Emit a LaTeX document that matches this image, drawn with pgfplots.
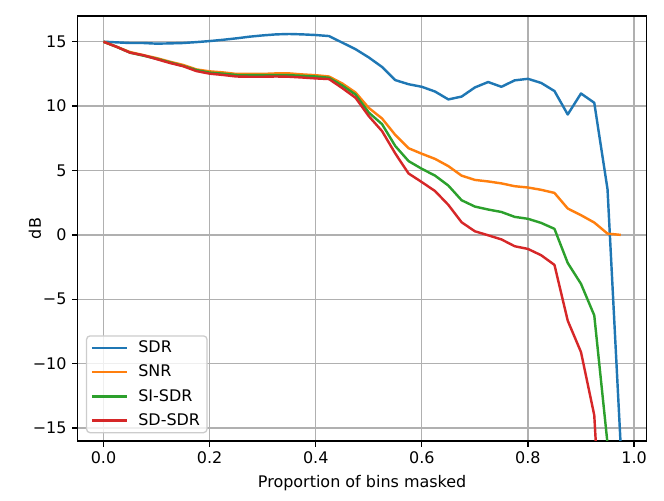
\documentclass[border=0pt]{standalone}
\usepackage{fontspec}
\setmainfont{DejaVu Sans}
\usepackage{pgfplots}
\pgfplotsset{compat=1.18}
\definecolor{tabblue}{HTML}{1F77B4}
\definecolor{taborange}{HTML}{FF7F0E}
\definecolor{tabgreen}{HTML}{2CA02C}
\definecolor{tabred}{HTML}{D62728}
\definecolor{gridgray}{HTML}{B0B0B0}
\definecolor{legedge}{HTML}{CCCCCC}
\begin{document}
\fontsize{11.5}{13.8}\selectfont
\begin{tikzpicture}
\begin{axis}[
  name=ax,
  scale only axis,
  width=409.7pt, height=306pt,
  xmin=-0.04875, xmax=1.02375, ymin=-16, ymax=17,
  xtick={0,0.2,0.4,0.6,0.8,1.0},
  xticklabels={0.0,0.2,0.4,0.6,0.8,1.0},
  ytick={-15,-10,-5,0,5,10,15},
  yticklabels={−15,−10,−5,0,5,10,15},
  tick align=outside, tick pos=left,
  major tick length=4pt,
  every tick/.style={black, line width=0.93pt},
  grid=major,
  grid style={color=gridgray, line width=0.93pt},
  axis line style={black, line width=0.93pt},
  tick label style={font=\fontsize{11.5}{13.8}\selectfont},
  label style={font=\fontsize{11.5}{13.8}\selectfont},
  xlabel={Proportion of bins masked},
  ylabel={dB},
  every axis y label/.style={at={(axis description cs:-0.075,0.5)}, rotate=90, anchor=center},
  legend cell align=left,
  legend style={at={(0.0146,0.018)}, anchor=south west,
    draw=legedge, line width=0.93pt, rounded corners=2.5pt,
    fill=white, fill opacity=0.8, text opacity=1,
    font=\fontsize{11.5}{13.8}\selectfont,
    inner xsep=3pt, inner ysep=1.5pt, row sep=3.2pt},
  legend image code/.code={\draw[line width=1.75pt] (0pt,0pt) -- (25pt,0pt);},
  every axis plot/.append style={line width=1.75pt, line join=round},
]
\addplot[tabblue] coordinates {(0,15.0)(0.025,14.95)(0.05,14.9)(0.075,14.9)(0.1,14.85)(0.125,14.87)(0.15,14.9)(0.175,14.97)(0.2,15.05)(0.225,15.15)(0.25,15.26)(0.275,15.39)(0.3,15.49)(0.325,15.57)(0.35,15.6)(0.375,15.57)(0.4,15.52)(0.425,15.44)(0.45,14.93)(0.475,14.42)(0.5,13.78)(0.525,13.04)(0.55,12.02)(0.575,11.7)(0.6,11.5)(0.625,11.13)(0.65,10.52)(0.675,10.74)(0.7,11.45)(0.725,11.87)(0.75,11.5)(0.775,12.0)(0.8,12.12)(0.825,11.8)(0.85,11.17)(0.875,9.35)(0.9,10.98)(0.925,10.26)(0.95,3.55)(0.975,-16.5)};
\addlegendentry{\hspace*{5.5pt}SDR}
\addplot[taborange] coordinates {(0,15)(0.025,14.6)(0.05,14.2)(0.075,13.96)(0.1,13.73)(0.125,13.45)(0.15,13.2)(0.175,12.85)(0.2,12.7)(0.225,12.62)(0.25,12.5)(0.275,12.5)(0.3,12.5)(0.325,12.54)(0.35,12.54)(0.375,12.46)(0.4,12.4)(0.425,12.3)(0.45,11.76)(0.475,11.06)(0.5,9.86)(0.525,9.04)(0.55,7.76)(0.575,6.73)(0.6,6.3)(0.625,5.9)(0.65,5.34)(0.675,4.6)(0.7,4.27)(0.725,4.15)(0.75,4.0)(0.775,3.78)(0.8,3.68)(0.825,3.5)(0.85,3.26)(0.875,2.05)(0.9,1.53)(0.925,0.96)(0.95,0.1)(0.975,0.0)};
\addlegendentry{\hspace*{5.5pt}SNR}
\addplot[tabgreen] coordinates {(0,15)(0.025,14.6)(0.05,14.15)(0.075,13.92)(0.1,13.68)(0.125,13.4)(0.15,13.12)(0.175,12.8)(0.2,12.6)(0.225,12.52)(0.25,12.42)(0.275,12.4)(0.3,12.4)(0.325,12.4)(0.35,12.4)(0.375,12.35)(0.4,12.3)(0.425,12.2)(0.45,11.6)(0.475,10.9)(0.5,9.5)(0.525,8.6)(0.55,6.9)(0.575,5.73)(0.6,5.13)(0.625,4.6)(0.65,3.83)(0.675,2.69)(0.7,2.2)(0.725,1.97)(0.75,1.78)(0.775,1.4)(0.8,1.25)(0.825,0.93)(0.85,0.47)(0.875,-2.18)(0.9,-3.8)(0.925,-6.25)(0.95,-16.2)};
\addlegendentry{\hspace*{5.5pt}SI-SDR}
\addplot[tabred] coordinates {(0,15)(0.025,14.6)(0.05,14.15)(0.075,13.95)(0.1,13.65)(0.125,13.35)(0.15,13.1)(0.175,12.72)(0.2,12.52)(0.225,12.42)(0.25,12.3)(0.275,12.28)(0.3,12.28)(0.325,12.3)(0.35,12.28)(0.375,12.22)(0.4,12.15)(0.425,12.1)(0.45,11.4)(0.475,10.65)(0.5,9.22)(0.525,8.06)(0.55,6.32)(0.575,4.77)(0.6,4.1)(0.625,3.4)(0.65,2.33)(0.675,0.98)(0.7,0.28)(0.725,-0.03)(0.75,-0.35)(0.775,-0.88)(0.8,-1.09)(0.825,-1.58)(0.85,-2.33)(0.875,-6.66)(0.9,-9.1)(0.925,-14.0)(0.95,-32)};
\addlegendentry{\hspace*{5.5pt}SD-SDR}
\end{axis}
\path ([shift={(-55.9pt,-43.2pt)}]ax.south west) rectangle ([shift={(12.5pt,11.5pt)}]ax.north east);
\end{tikzpicture}
\end{document}
